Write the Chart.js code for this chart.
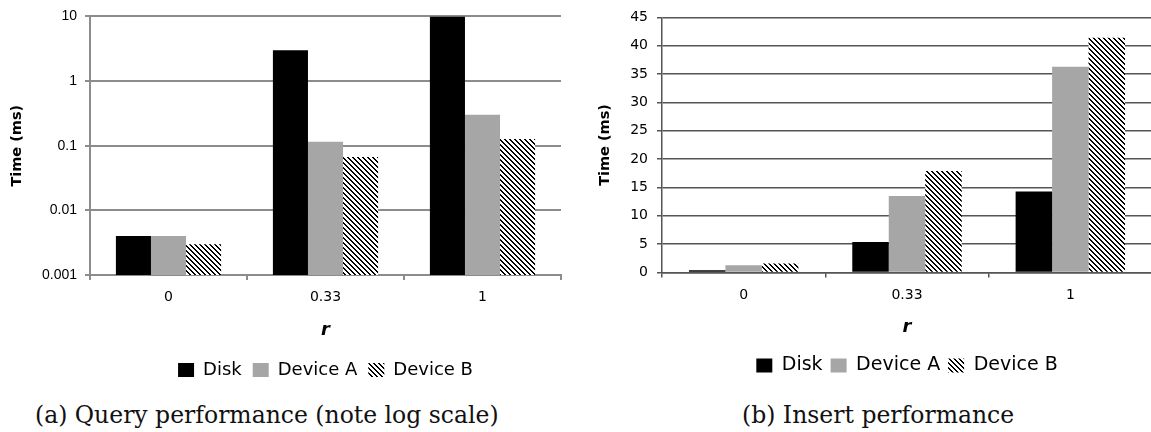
<!DOCTYPE html>
<html>
<head>
<meta charset="utf-8">
<script src="https://cdn.jsdelivr.net/npm/chart.js@4.4.1/dist/chart.umd.min.js"></script>
<style>
  html, body { margin: 0; padding: 0; background: #fff; overflow: hidden; }
  body { width: 1151px; height: 432px; position: relative; }
  .box { position: absolute; top: 0; }
  #left { left: 0; width: 575px; height: 389px; }
  #right { left: 575px; width: 577px; height: 385px; }
  .cap { position: absolute; top: 401px; font-family: "DejaVu Serif", serif; font-size: 23.5px; color: #111; white-space: nowrap; line-height: 28px; }
</style>
</head>
<body>
<div class="box" id="left"><canvas id="query-chart"></canvas></div>
<div class="box" id="right"><canvas id="insert-chart"></canvas></div>
<div class="cap" style="left:35px">(a) Query performance (note log scale)</div>
<div class="cap" style="left:742px">(b) Insert performance</div>
<script>
// values
const categories = ['0', '0.33', '1'];
const seriesNames = ['Disk', 'Device A', 'Device B'];

const queryDisk = [0.004, 3, 10];
const queryDeviceA = [0.004, 0.115, 0.3];
const queryDeviceB = [0.003, 0.067, 0.127];

const insertDisk = [0.4, 5.4, 14.3];
const insertDeviceA = [1.3, 13.5, 36.3];
const insertDeviceB = [1.6, 17.9, 41.4];

const logTicks = [0.001, 0.01, 0.1, 1, 10];
const linearTicks = [0, 5, 10, 15, 20, 25, 30, 35, 40, 45];

Chart.defaults.font.family = 'DejaVu Sans';
Chart.defaults.color = '#000';
Chart.defaults.animation = false;

// diagonal "\\\" hatch tile
function hatch(ctx, period, dark) {
    const tile = document.createElement('canvas');
    tile.width = tile.height = period;
    const g = tile.getContext('2d');
    const img = g.createImageData(period, period);
    for (let y = 0; y < period; y++) {
        for (let x = 0; x < period; x++) {
            const k = ((x - y) % period + period) % period;
            const v = k < dark ? 0 : 255;
            const i = (y * period + x) * 4;
            img.data[i] = img.data[i + 1] = img.data[i + 2] = v;
            img.data[i + 3] = 255;
        }
    }
    g.putImageData(img, 0, 0);
    return ctx.createPattern(tile, 'repeat');
}

function makeChart(id, series, opts) {
    const ctx = document.getElementById(id).getContext('2d');
    const colors = ['#000000', '#a6a6a6', hatch(ctx, 5, 2)];
    return new Chart(ctx, {
        type: 'bar',
        data: {
            labels: categories,
            datasets: series.map((vals, i) => ({
                label: seriesNames[i],
                data: vals,
                backgroundColor: colors[i],
                borderWidth: 0,
                categoryPercentage: 0.67,
                barPercentage: 1.0
            }))
        },
        options: {
            responsive: true,
            maintainAspectRatio: false,
            layout: { padding: opts.padding },
            plugins: {
                tooltip: { enabled: false },
                legend: {
                    position: 'bottom',
                    fullSize: false,
                    labels: {
                        boxWidth: 16,
                        boxHeight: 14,
                        padding: opts.legendPad,
                        font: { size: opts.legendSize }
                    }
                }
            },
            scales: {
                x: {
                    grid: { drawOnChartArea: false, offset: true, tickLength: 5, color: opts.grid, lineWidth: opts.gridWidth },
                    border: { color: opts.grid, width: opts.gridWidth },
                    ticks: { padding: 9, font: { size: 14 } },
                    title: {
                        display: true, text: 'r',
                        font: { size: 18, weight: 'bold', style: 'italic' },
                        padding: { top: 0, bottom: opts.rPad }
                    },
                    afterFit: s => { s.height = opts.xHeight; }
                },
                y: Object.assign({
                    grid: { color: opts.grid, lineWidth: opts.gridWidth, tickLength: 5 },
                    border: { color: opts.grid, width: opts.gridWidth },
                    title: {
                        display: true, text: 'Time (ms)',
                        font: { size: 14.5, weight: 'bold' },
                        padding: { top: opts.titlePad, bottom: 0 }
                    },
                    afterFit: s => { s.width = opts.yWidth; }
                }, opts.y)
            }
        }
    });
}

makeChart('query-chart', [queryDisk, queryDeviceA, queryDeviceB], {
    padding: { top: 16, right: 14, left: 0, bottom: 0 },
    grid: '#8c8c8c', gridWidth: 2,
    legendPad: 11, legendSize: 18,
    xHeight: 75, rPad: 9, yWidth: 90, titlePad: 9,
    y: {
        type: 'logarithmic',
        min: 0.001,
        max: 10,
        afterBuildTicks: s => { s.ticks = logTicks.map(v => ({ value: v })); },
        ticks: {
            autoSkip: false, padding: 8,
            font: { family: 'Liberation Sans', size: 14 },
            callback: v => String(v)
        }
    }
});

makeChart('insert-chart', [insertDisk, insertDeviceA, insertDeviceB], {
    padding: { top: 10, right: 0, left: 0, bottom: 0 },
    grid: '#555555', gridWidth: 1.5,
    legendPad: 8, legendSize: 19,
    xHeight: 75.5, rPad: 10, yWidth: 87, titlePad: 22,
    y: {
        type: 'linear',
        min: linearTicks[0],
        max: linearTicks[linearTicks.length - 1],
        afterBuildTicks: s => { s.ticks = linearTicks.map(v => ({ value: v })); },
        ticks: { autoSkip: false, padding: 9, font: { size: 14 } }
    }
});
</script>
</body>
</html>
